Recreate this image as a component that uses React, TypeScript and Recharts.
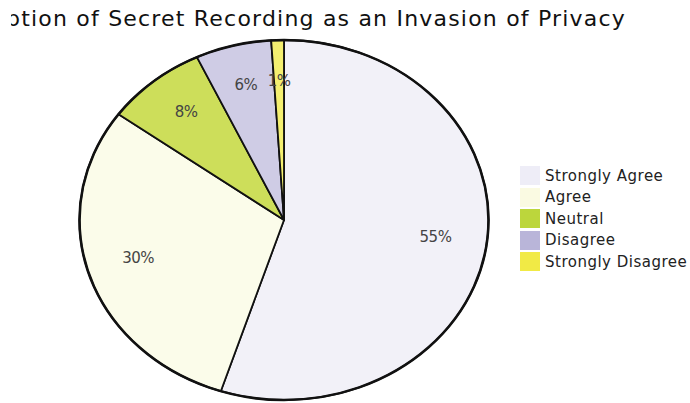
import React from 'react';
import { PieChart, Pie, Cell, Legend } from 'recharts';

const categories = ['Strongly Agree', 'Agree', 'Neutral', 'Disagree', 'Strongly Disagree'];
const shares = [55, 30, 8, 6, 1];
const sliceColors = ['#f2f1f8', '#fbfcea', '#cdde5a', '#cfcce5', '#f4ef70'];
const legendColors = ['#eeedf7', '#fafae2', '#bcd63c', '#b9b5d9', '#f1ea45'];
const outline = [{ name: 'outline', value: 1 }];

const data = categories.map((name, i) => ({ name, value: shares[i] }));

const FONT = '"DejaVu Sans", Verdana, sans-serif';
const SX = 204.5 / 180; // horizontal stretch: the reference pie is an ellipse
const RAD = Math.PI / 180;

function ellipsePoint(cx: number, cy: number, r: number, deg: number) {
  return [cx + r * SX * Math.cos(-deg * RAD), cy + r * Math.sin(-deg * RAD)];
}

function EllipseSector(props: any) {
  const { cx, cy, outerRadius, startAngle, endAngle, fill } = props;
  const [x0, y0] = ellipsePoint(cx, cy, outerRadius, startAngle);
  const [x1, y1] = ellipsePoint(cx, cy, outerRadius, endAngle);
  const large = Math.abs(endAngle - startAngle) > 180 ? 1 : 0;
  const d = `M${cx},${cy} L${x0},${y0} A${outerRadius * SX},${outerRadius} 0 ${large} 1 ${x1},${y1} Z`;
  return <path d={d} fill={fill} stroke="#111" strokeWidth={1.8} strokeLinejoin="round" />;
}

function EllipseOutline(props: any) {
  const { cx, cy, outerRadius } = props;
  return <ellipse cx={cx} cy={cy} rx={outerRadius * SX} ry={outerRadius} fill="none" stroke="#111" strokeWidth={2.6} />;
}

function renderLabel(props: any) {
  const { cx, cy, midAngle, outerRadius, value } = props;
  const [x, y] = ellipsePoint(cx, cy, outerRadius * 0.75, midAngle);
  return (
    <text x={x} y={y - 4} textAnchor="middle" dominantBaseline="central" fill="#444"
      fontSize={15} letterSpacing={-0.5} fontFamily={FONT}>
      {`${value}%`}
    </text>
  );
}

function LegendBox() {
  return (
    <div style={{ fontFamily: FONT, fontSize: 15, letterSpacing: 0.5, color: '#222' }}>
      {categories.map((c, i) => (
        <div key={c} style={{ display: 'flex', alignItems: 'center', height: 21.5 }}>
          <span style={{ width: 20, height: 19, background: legendColors[i], marginRight: 5 }} />
          <span>{c}</span>
        </div>
      ))}
    </div>
  );
}

export default function App() {
  return (
    <div style={{ position: 'fixed', left: 0, top: 0, width: 690, height: 403, overflow: 'hidden', background: '#fff' }}>
      <svg width={679} height={40} style={{ position: 'absolute', left: 11, top: 0 }}>
        <text x={615} y={26} textAnchor="end" fontFamily={FONT} fontSize={22} letterSpacing={1.2} fill="#111">
          Perception of Secret Recording as an Invasion of Privacy
        </text>
      </svg>
      <div style={{ position: 'absolute', left: 0, top: 0 }}>
        <PieChart width={690} height={403} margin={{ top: 0, right: 0, bottom: 0, left: 0 }}>
          <Pie
            data={data}
            dataKey="value"
            nameKey="name"
            cx={284}
            cy={220}
            outerRadius={180}
            startAngle={90}
            endAngle={-270}
            shape={EllipseSector}
            label={renderLabel}
            labelLine={false}
            isAnimationActive={false}
          >
            {data.map((d, i) => (
              <Cell key={d.name} fill={sliceColors[i]} />
            ))}
          </Pie>
          <Pie
            data={outline}
            dataKey="value"
            cx={284}
            cy={220}
            outerRadius={180}
            shape={EllipseOutline}
            legendType="none"
            isAnimationActive={false}
          />
          <Legend
            layout="vertical"
            content={<LegendBox />}
            wrapperStyle={{ position: 'absolute', left: 520, top: 165, width: 170 }}
          />
        </PieChart>
      </div>
    </div>
  );
}
